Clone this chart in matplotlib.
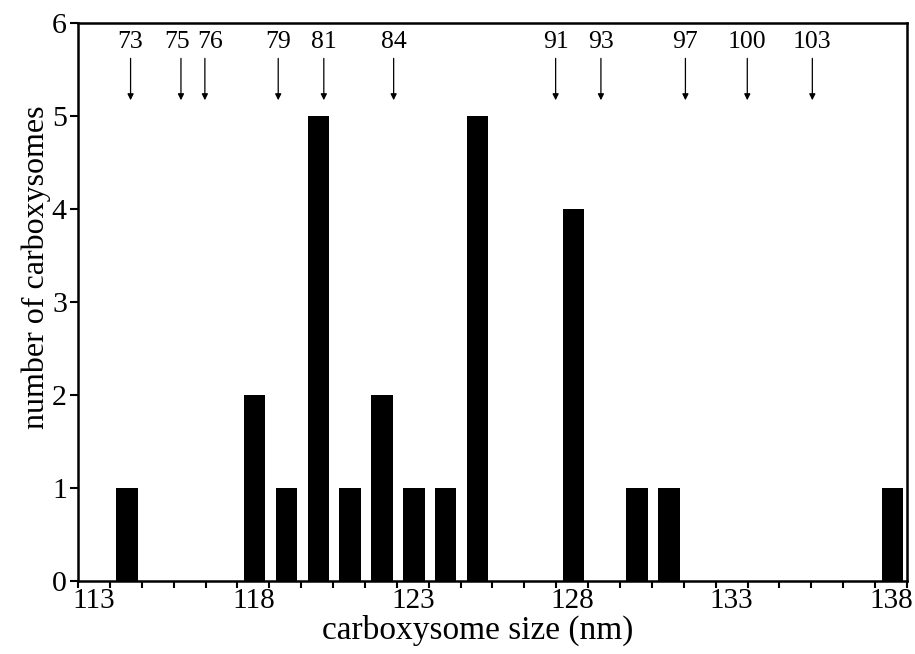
import numpy as np
import matplotlib.pyplot as plt

plt.rcParams['font.family'] = ['Liberation Serif', 'DejaVu Serif']

# histogram of carboxysome sizes (bin start, nm) and counts
sizes = [114, 118, 119, 120, 121, 122, 123, 124, 125, 128, 130, 131, 138]
counts = [1, 2, 1, 5, 1, 2, 1, 1, 5, 4, 1, 1, 1]

# arrow markers at the top
arrow_labels = ['73', '75', '76', '79', '81', '84', '91', '93', '97', '100', '103']
arrow_pos = [114.65, 116.23, 116.98, 119.28, 120.71, 122.90,
             127.98, 129.40, 132.05, 133.99, 136.03]

xtick_labels = ['113', '118', '123', '128', '133', '138']

fig = plt.figure(figsize=(9.15, 6.54), dpi=100)
ax = fig.add_axes([0.0852, 0.1116, 0.9061, 0.8532])

ax.bar(np.array(sizes) + 0.2, counts, width=0.67, align='edge',
       color='black', edgecolor='none')

# the two crowded labels are pushed apart a little, as in the original
nudge = {'75': -3, '76': 4}
for lab, x in zip(arrow_labels, arrow_pos):
    ax.annotate('', xy=(x, 5.17), xytext=(x, 5.62),
                arrowprops=dict(arrowstyle='-|>', color='black', lw=0.9,
                                mutation_scale=9, shrinkA=0, shrinkB=0))
    ax.annotate(lab, xy=(x, 5.68), xytext=(nudge.get(lab, 0), 0),
                textcoords='offset points', ha='center', va='bottom',
                fontsize=18.5)

ax.set_xlim(113, 139)
ax.set_ylim(0, 6)

# labels sit in the middle of the bins, ticks on the bin edges
ax.set_xticks(np.arange(113, 140), minor=True)
ax.set_xticks([int(t) + 0.5 for t in xtick_labels])
ax.set_xticklabels(xtick_labels)
ax.tick_params(axis='x', which='major', length=0, pad=5, labelsize=21)
ax.tick_params(axis='x', which='minor', length=5, width=1.5, direction='out')
ax.set_yticks(range(0, 7))
ax.tick_params(axis='y', length=6, width=1.5, direction='out', pad=2, labelsize=21.5)

for s in ax.spines.values():
    s.set_linewidth(1.8)

ax.set_xlabel('carboxysome size (nm)', fontsize=24)
ax.set_ylabel('number of carboxysomes', fontsize=23)
ax.xaxis.set_label_coords(0.482, -0.06)
ax.yaxis.set_label_coords(-0.032, 0.563)

plt.savefig('out.png', dpi=100)
